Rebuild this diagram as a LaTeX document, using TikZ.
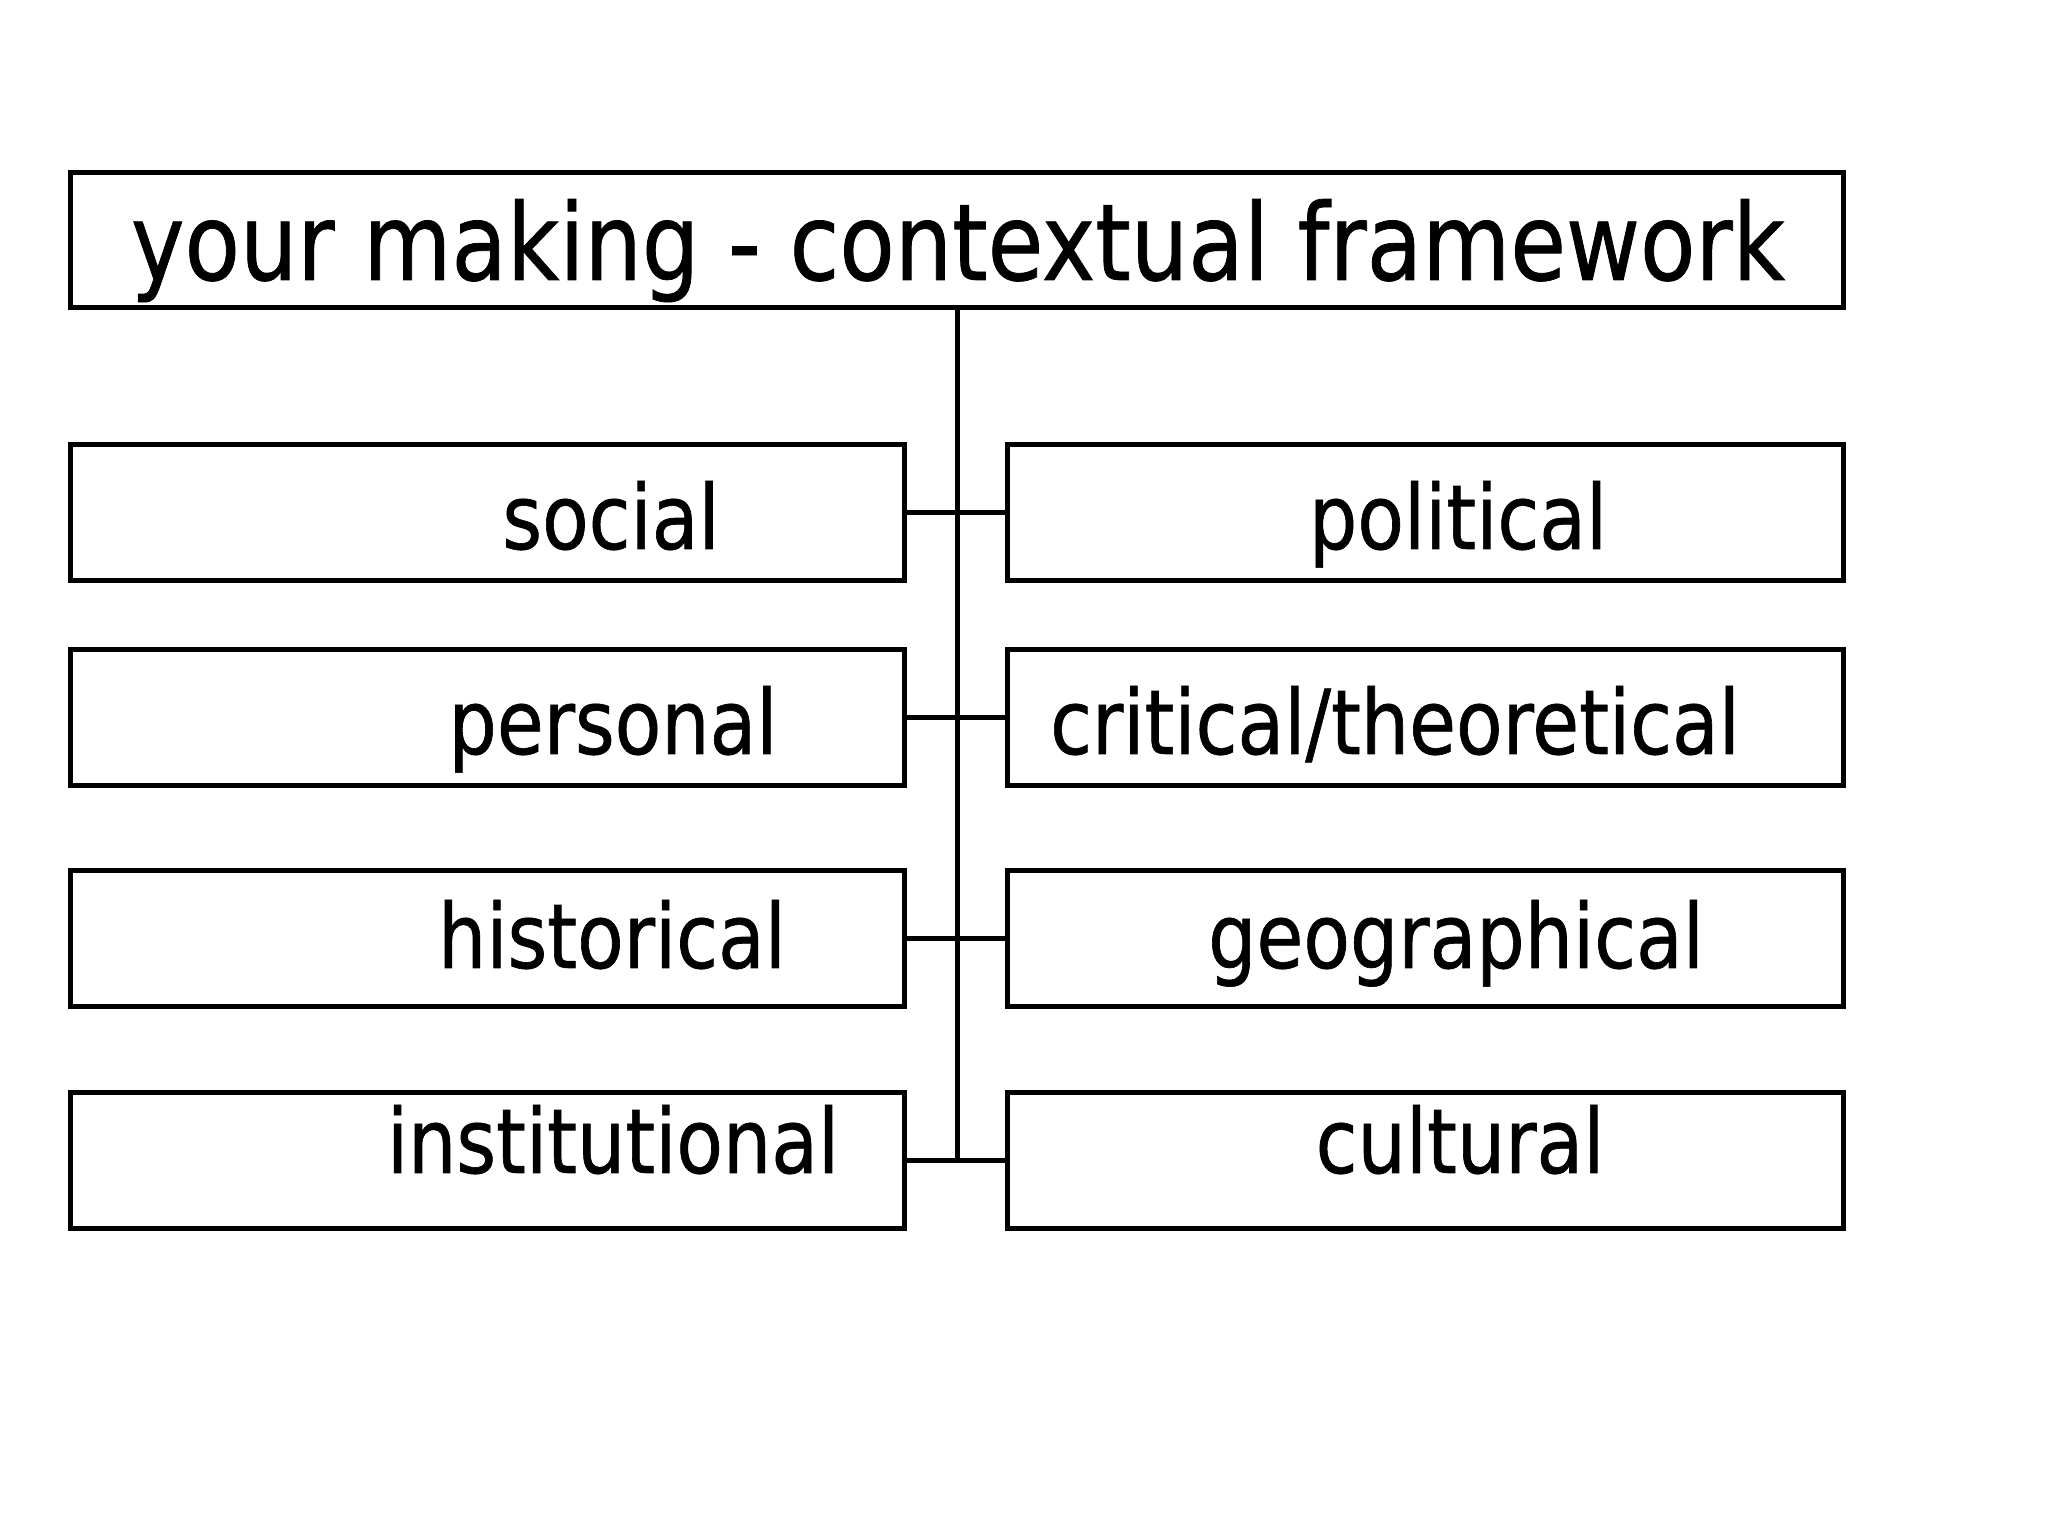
\documentclass[tikz,border=0pt]{standalone}
\usepackage{fontspec}
\setmainfont{DejaVu Sans}[FakeStretch=0.85, FakeBold=0.7]
\begin{document}
\begin{tikzpicture}[
  box/.style={draw, line width=1.42pt, inner sep=0pt, minimum height=1.36cm},
  leftbox/.style={box, minimum width=8.34cm},
  rightbox/.style={box, minimum width=8.36cm},
  link/.style={line width=1.42pt},
  lbl/.style={anchor=base, inner sep=0pt, font=\fontsize{25.5}{30}\selectfont},
  headlbl/.style={anchor=base, inner sep=0pt, font=\fontsize{30.3}{35}\selectfont}
]
  \useasboundingbox (0,0) rectangle (20.48,15.36);

  % Title box
  \node[box, minimum width=17.73cm, minimum height=1.35cm] (title) at (9.57,12.96) {};
  \node[headlbl] (titletext) at (9.58,12.56) {your making - contextual framework};

  % Left column
  \node[leftbox] (social) at (4.875,10.235) {};
  \node[leftbox] (personal) at (4.875,8.185) {};
  \node[leftbox] (historical) at (4.875,5.975) {};
  \node[leftbox] (institutional) at (4.875,3.755) {};

  % Right column
  \node[rightbox] (political) at (14.255,10.235) {};
  \node[rightbox] (critical) at (14.255,8.185) {};
  \node[rightbox] (geographical) at (14.255,5.975) {};
  \node[rightbox] (cultural) at (14.255,3.755) {};

  % Labels (not centred in their boxes)
  \node[lbl] (socialtext) at (6.11,9.87) {social};
  \node[lbl] (personaltext) at (6.13,7.82) {personal};
  \node[lbl] (historicaltext) at (6.12,5.68) {historical};
  \node[lbl] (institutionaltext) at (6.13,3.63) {institutional};
  \node[lbl] (politicaltext) at (14.58,9.87) {political};
  \node[lbl] (criticaltext) at (13.95,7.82) {critical/theoretical};
  \node[lbl] (geographicaltext) at (14.56,5.68) {geographical};
  \node[lbl] (culturaltext) at (14.60,3.63) {cultural};

  % Trunk and branches
  \draw[link] (title.south) -- (title.south |- institutional.east);
  \draw[link] (social.east) -- (political.west);
  \draw[link] (personal.east) -- (critical.west);
  \draw[link] (historical.east) -- (geographical.west);
  \draw[link] (institutional.east) -- (cultural.west);
\end{tikzpicture}
\end{document}
